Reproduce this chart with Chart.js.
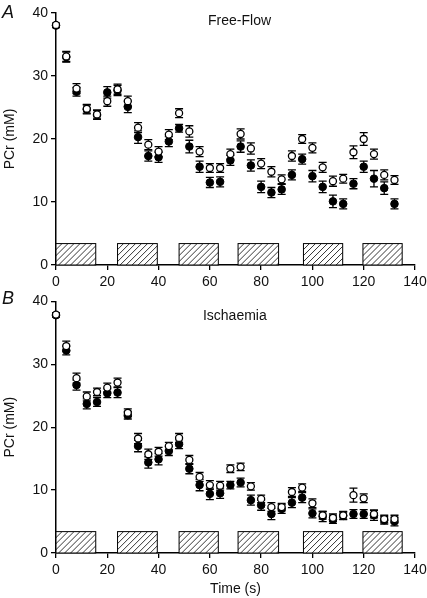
<!DOCTYPE html>
<html lang="en">
<head>
    <meta charset="UTF-8">
    <title>PCr time course</title>
    <script src="https://cdn.jsdelivr.net/npm/chart.js"></script>
    <style>
        body {
            margin: 0;
            background-color: white;
        }
        .figure {
            position: relative;
            width: 427px;
            height: 598px;
        }
        .panel {
            position: absolute;
            left: 0;
            width: 427px;
        }
        #panel-a { top: 0; height: 290px; }
        #panel-b { top: 290px; height: 308px; }
    </style>
</head>
<body>
<div class="figure">
    <div class="panel" id="panel-a"><canvas id="chart-a"></canvas></div>
    <div class="panel" id="panel-b"><canvas id="chart-b"></canvas></div>
</div>
<script>
    // sample times (s)
    const times = [0, 4, 8, 12, 16, 20, 24, 28, 32, 36, 40, 44, 48, 52, 56, 60, 64,
        68, 72, 76, 80, 84, 88, 92, 96, 100, 104, 108, 112, 116, 120, 124, 128, 132];

    // Free-Flow
    const freeOpen = [38.1, 33.1, 28.0, 24.8, 23.9, 26.0, 27.9, 26.0, 21.8, 19.1, 18.0, 20.7, 24.1, 21.2, 18.0, 15.4, 15.4,
        17.6, 20.8, 18.5, 16.1, 14.8, 13.6, 17.3, 20.0, 18.6, 15.5, 13.3, 13.7, 17.9, 20.0, 17.6, 14.3, 13.5];
    const freeOpenErr = [0.3, 0.8, 0.8, 0.7, 0.7, 0.8, 0.8, 0.8, 0.8, 0.8, 0.8, 0.8, 0.7, 0.9, 0.8, 0.7, 0.7,
        0.8, 0.8, 0.9, 0.8, 0.8, 0.7, 0.8, 0.7, 0.8, 0.8, 0.8, 0.7, 1.0, 1.0, 0.8, 0.8, 0.7];
    const freeFilled = [38.0, 33.0, 27.5, 24.7, 23.8, 27.4, 27.7, 25.1, 20.3, 17.3, 17.1, 19.6, 21.7, 18.8, 15.6, 13.1, 13.2,
        16.6, 18.8, 15.8, 12.4, 11.5, 12.0, 14.3, 16.8, 14.1, 12.4, 10.1, 9.7, 12.9, 15.6, 13.7, 12.2, 9.7];
    const freeFilledErr = [0.3, 0.8, 0.7, 0.7, 0.7, 0.9, 0.8, 0.9, 1.0, 0.8, 0.8, 0.8, 0.6, 1.0, 0.9, 0.8, 0.8,
        0.8, 0.9, 0.9, 0.9, 0.8, 0.8, 0.8, 0.8, 0.9, 0.9, 1.0, 0.8, 0.8, 0.9, 1.3, 1.0, 0.8];

    // Ischaemia
    const ischOpen = [37.9, 32.9, 27.8, 24.9, 25.6, 26.3, 27.1, 22.3, 18.2, 15.7, 16.1, 17.0, 18.3, 14.8, 12.1, 10.8, 10.7,
        13.4, 13.7, 10.6, 8.6, 7.3, 7.3, 9.7, 10.4, 7.9, 6.0, 5.6, 6.0, 9.2, 8.7, 6.2, 5.4, 5.4];
    const ischOpenErr = [0.3, 0.8, 0.8, 0.7, 0.6, 0.7, 0.7, 0.6, 0.8, 0.8, 0.7, 0.6, 0.7, 0.7, 0.7, 0.7, 0.7,
        0.6, 0.6, 0.6, 0.6, 0.7, 0.6, 0.7, 0.6, 0.7, 0.6, 0.6, 0.6, 1.1, 0.7, 0.6, 0.6, 0.6];
    const ischFilled = [37.8, 32.2, 26.7, 23.7, 24.0, 25.4, 25.5, 21.9, 17.0, 14.4, 14.9, 16.2, 17.3, 13.4, 10.8, 9.4, 9.5,
        10.8, 11.2, 8.4, 7.6, 6.2, 7.0, 8.0, 8.8, 6.3, 5.8, 5.3, 5.9, 6.2, 6.2, 6.0, 5.2, 5.0];
    const ischFilledErr = [0.3, 0.7, 0.8, 0.8, 0.7, 0.7, 0.8, 0.6, 0.9, 0.9, 0.9, 0.7, 0.7, 0.8, 0.9, 0.9, 0.8,
        0.6, 0.7, 0.8, 0.8, 0.9, 0.7, 0.8, 0.8, 0.7, 0.8, 0.6, 0.6, 0.7, 0.7, 0.8, 0.6, 0.7];

    // stimulation periods (hatched boxes), start/end in s, height in mM
    const stimStart = [0, 24, 48, 71, 96.5, 119.7];
    const stimEnd = [15.5, 39.5, 63.3, 86.8, 111.8, 135];
    const stimHeight = 3.4;

    const FONT = "'Liberation Sans', Arial, Helvetica, sans-serif";

    const extras = {
        id: 'extras',
        beforeDatasetsDraw(chart, args, opts) {
            const ctx = chart.ctx;
            const x = chart.scales.x, y = chart.scales.y;

            // hatched boxes
            ctx.save();
            for (let i = 0; i < stimStart.length; i++) {
                const l = x.getPixelForValue(stimStart[i]);
                const r = x.getPixelForValue(stimEnd[i]);
                const b = y.getPixelForValue(0);
                const t = y.getPixelForValue(stimHeight);
                ctx.fillStyle = '#fff';
                ctx.fillRect(l, t, r - l, b - t);
                ctx.save();
                ctx.beginPath();
                ctx.rect(l, t, r - l, b - t);
                ctx.clip();
                ctx.strokeStyle = '#000';
                ctx.lineWidth = 0.8;
                ctx.beginPath();
                for (let s = l - (b - t); s < r + 6; s += 6) {
                    ctx.moveTo(s, b);
                    ctx.lineTo(s + (b - t), t);
                }
                ctx.stroke();
                ctx.restore();
                ctx.strokeStyle = '#000';
                ctx.lineWidth = 1;
                ctx.strokeRect(l, t, r - l, b - t);
            }

            // error bars
            ctx.strokeStyle = '#000';
            ctx.lineWidth = 1.3;
            chart.data.datasets.forEach(ds => {
                ds.data.forEach((p, i) => {
                    const px = x.getPixelForValue(p.x);
                    const hi = y.getPixelForValue(p.y + ds.errors[i]);
                    const lo = y.getPixelForValue(p.y - ds.errors[i]);
                    ctx.beginPath();
                    ctx.moveTo(px, hi); ctx.lineTo(px, lo);
                    ctx.moveTo(px - 4, hi); ctx.lineTo(px + 4, hi);
                    ctx.moveTo(px - 4, lo); ctx.lineTo(px + 4, lo);
                    ctx.stroke();
                });
            });
            ctx.restore();
        },
        afterDraw(chart, args, opts) {
            const ctx = chart.ctx;
            const x = chart.scales.x, y = chart.scales.y;
            ctx.save();
            ctx.fillStyle = '#111';
            ctx.font = '14px ' + FONT;
            ctx.textBaseline = 'middle';
            ctx.fillText(opts.title, x.getPixelForValue(opts.titleAt[0]), y.getPixelForValue(opts.titleAt[1]));
            ctx.font = 'italic 18px ' + FONT;
            ctx.textBaseline = 'alphabetic';
            ctx.fillText(opts.letter, 2, opts.letterY);
            ctx.restore();
        }
    };

    function points(values) {
        return times.map((t, i) => ({ x: t, y: values[i] }));
    }

    function makePanel(id, open, openErr, filled, filledErr, o) {
        const axisCommon = {
            type: 'linear',
            grid: { drawOnChartArea: false, drawTicks: true, tickLength: 5, color: '#000', lineWidth: 1.3 },
            border: { color: '#000', width: 1.5 }
        };
        return new Chart(document.getElementById(id), {
            type: 'scatter',
            data: {
                datasets: [{
                    data: points(open),
                    errors: openErr,
                    pointRadius: 3.5,
                    pointBackgroundColor: '#fff',
                    pointBorderColor: '#000',
                    pointBorderWidth: 1.3
                }, {
                    data: points(filled),
                    errors: filledErr,
                    pointRadius: 3.8,
                    pointBackgroundColor: '#000',
                    pointBorderColor: '#000',
                    pointBorderWidth: 1
                }]
            },
            options: {
                responsive: true,
                maintainAspectRatio: false,
                animation: false,
                clip: false,
                layout: { padding: { top: o.top, right: 12, left: 0, bottom: 0 } },
                plugins: {
                    legend: { display: false },
                    tooltip: { enabled: false },
                    extras: { title: o.title, titleAt: o.titleAt, letter: o.letter, letterY: o.letterY }
                },
                scales: {
                    x: Object.assign({}, axisCommon, {
                        min: 0, max: 140,
                        ticks: { stepSize: 20, color: '#111', font: { size: 14, family: FONT }, padding: 4, maxRotation: 0 },
                        title: {
                            display: o.xTitle,
                            text: 'Time (s)',
                            color: '#111',
                            font: { size: 14, family: FONT },
                            padding: { top: 0, bottom: 0 }
                        },
                        afterFit: s => { s.height = o.xHeight; s.paddingRight = 0; s.paddingLeft = 0; }
                    }),
                    y: Object.assign({}, axisCommon, {
                        min: 0, max: 40,
                        ticks: { stepSize: 10, color: '#111', font: { size: 14, family: FONT }, padding: 3 },
                        title: {
                            display: true,
                            text: 'PCr (mM)',
                            color: '#111',
                            font: { size: 14, family: FONT },
                            padding: { top: 2, bottom: 0 }
                        },
                        afterFit: s => { s.width = 56; }
                    })
                }
            },
            plugins: [extras]
        });
    }

    makePanel('chart-a', freeOpen, freeOpenErr, freeFilled, freeFilledErr,
        { top: 13, xHeight: 25, xTitle: false, title: 'Free-Flow', titleAt: [59.3, 38.7], letter: 'A', letterY: 18 });
    makePanel('chart-b', ischOpen, ischOpenErr, ischFilled, ischFilledErr,
        { top: 11, xHeight: 45, xTitle: true, title: 'Ischaemia', titleAt: [57.3, 37.6], letter: 'B', letterY: 14 });
</script>
</body>
</html>
